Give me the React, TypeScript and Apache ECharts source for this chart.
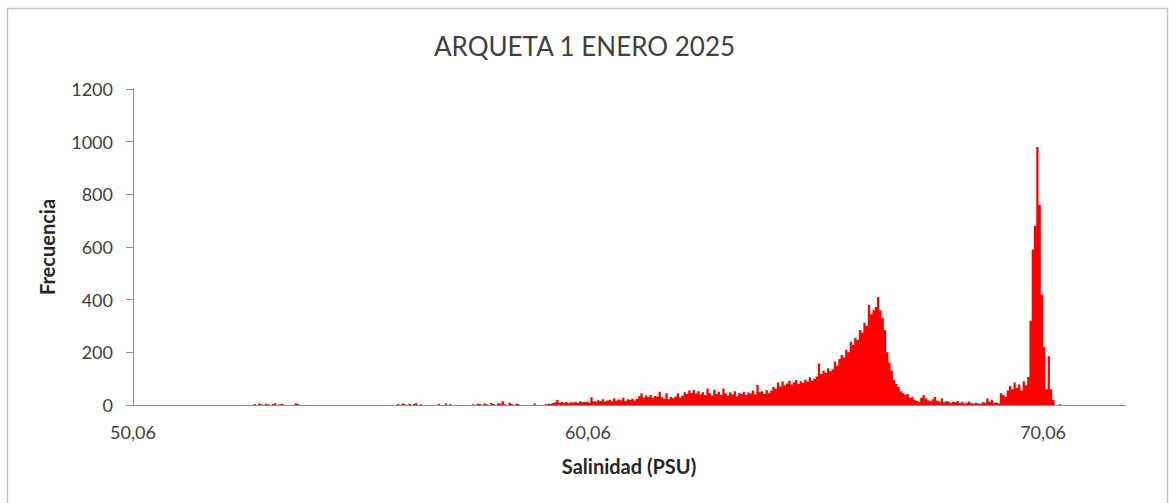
import React, { useEffect, useRef } from "react";
import * as echarts from "echarts";

// Histogram of salinity readings: bins of 0.05 PSU starting at 50.06
const binStart = 50.06;
const binWidth = 0.05;
const axisMin = 50.06;
const axisMax = 71.86;
const xTickStep = 10;
const yTicks = [0, 200, 400, 600, 800, 1000, 1200];

const frequencies: number[] = [
  // 50.06 - 51.06
  0, 0, 0, 0, 0, 0, 0, 0, 0, 0, 0, 0, 0, 0, 0, 0, 0, 0, 0, 0,
  // 51.06 - 52.06
  0, 0, 0, 0, 0, 0, 0, 0, 0, 0, 0, 0, 0, 0, 0, 0, 0, 0, 0, 0,
  // 52.06 - 53.06
  0, 0, 0, 0, 0, 0, 0, 0, 0, 0, 0, 0, 0, 4, 0, 6, 3, 0, 5, 2,
  // 53.06 - 54.06
  0, 4, 7, 0, 3, 5, 0, 0, 0, 0, 0, 6, 4, 0, 0, 0, 0, 0, 0, 0,
  // 54.06 - 55.06
  0, 0, 0, 0, 0, 0, 0, 0, 0, 0, 0, 0, 0, 0, 0, 0, 0, 0, 0, 0,
  // 55.06 - 56.06
  0, 0, 0, 0, 0, 0, 0, 0, 0, 0, 0, 0, 0, 0, 0, 0, 4, 0, 6, 3,
  // 56.06 - 57.06
  0, 5, 0, 4, 7, 0, 3, 0, 0, 0, 0, 0, 0, 0, 5, 0, 0, 6, 0, 3,
  // 57.06 - 58.06
  0, 0, 0, 0, 0, 0, 0, 0, 0, 3, 0, 5, 4, 0, 6, 3, 0, 8, 4, 0,
  // 58.06 - 59.06
  7, 5, 14, 3, 0, 9, 4, 0, 5, 3, 0, 0, 0, 0, 0, 0, 6, 0, 0, 0,
  // 59.06 - 60.06
  0, 3, 5, 4, 8, 10, 19, 9, 12, 8, 11, 7, 10, 9, 12, 8, 14, 10, 11, 13,
  // 60.06 - 61.06
  9, 29, 14, 12, 18, 15, 22, 13, 17, 20, 14, 26, 16, 21, 18, 28, 15, 22, 19, 24,
  // 61.06 - 62.06
  17, 23, 33, 45, 28, 36, 30, 38, 27, 34, 31, 50, 29, 24, 45, 22, 30, 26, 32, 45,
  // 62.06 - 63.06
  28, 35, 48, 42, 55, 46, 57, 44, 52, 40, 48, 38, 63, 45, 36, 58, 42, 50, 38, 63,
  // 63.06 - 64.06
  44, 35, 48, 40, 52, 33, 46, 42, 50, 38, 47, 44, 55, 40, 76, 48, 52, 42, 57, 45,
  // 64.06 - 65.06
  54, 68, 62, 85, 70, 89, 74, 82, 92, 78, 86, 95, 80, 90, 84, 96, 88, 105, 92, 100,
  // 65.06 - 66.06
  108, 158, 118, 130, 122, 140, 128, 135, 165, 150, 175, 190, 180, 210, 200, 240, 228, 255, 247, 285,
  // 66.06 - 67.06
  275, 312, 300, 380, 345, 360, 372, 410, 360, 330, 285, 200, 160, 130, 95, 80, 68, 52, 45, 38,
  // 67.06 - 68.06
  42, 28, 30, 20, 15, 12, 28, 38, 25, 18, 14, 22, 30, 16, 12, 25, 10, 14, 12, 8,
  // 68.06 - 69.06
  13, 10, 15, 8, 12, 6, 9, 13, 7, 5, 9, 6, 4, 10, 8, 25, 12, 20, 8, 10,
  // 69.06 - 70.06
  6, 45, 38, 30, 55, 72, 60, 85, 65, 78, 55, 90, 75, 106, 320, 590, 680, 980, 760, 420,
  // 70.06 - 71.06
  220, 60, 185, 60, 20, 0, 0, 3, 0, 0, 0, 0, 0, 0, 0, 0, 0, 0, 0, 0,
  // 71.06 - 71.86
  0, 0, 0, 0, 0, 0, 0, 0, 0, 0, 0, 0, 0, 0, 0, 0,
];

const titleText = "ARQUETA 1 ENERO 2025";
const xName = "Salinidad (PSU)";
const yName = "Frecuencia";

export default function App() {
  const ref = useRef<HTMLDivElement>(null);

  useEffect(() => {
    if (!ref.current) return;
    const chart = echarts.init(ref.current, undefined, { renderer: "svg" });
    const data = frequencies.map((f, i) => [binStart + (i + 0.5) * binWidth, f]);
    const font = "Lato, 'Open Sans', sans-serif";
    chart.setOption({
      animation: false,
      backgroundColor: "#ffffff",
      title: {
        text: titleText,
        left: "center",
        top: 28,
        textStyle: {
          fontFamily: font,
          fontSize: 26,
          fontWeight: "normal",
          color: "#404040",
        },
      },
      graphic: [
        {
          type: "rect",
          shape: { x: 7.5, y: 8.5, width: 1160, height: 500 },
          style: { fill: "none", stroke: "#c4c4c4", lineWidth: 1.5 },
          silent: true,
        },
      ],
      grid: { left: 133, right: 44, top: 89, bottom: 98, containLabel: false },
      xAxis: {
        type: "value",
        min: axisMin,
        max: axisMax,
        interval: xTickStep,
        z: 5,
        name: xName,
        nameLocation: "middle",
        nameGap: 51,
        nameTextStyle: {
          fontFamily: font,
          fontSize: 20,
          fontWeight: "bold",
          color: "#262626",
        },
        axisLine: { show: true, lineStyle: { color: "#8c8c8c", width: 1 } },
        axisTick: { show: false },
        splitLine: { show: false },
        axisLabel: {
          showMaxLabel: false,
          margin: 18,
          fontFamily: font,
          fontSize: 18,
          color: "#404040",
          formatter: (v: number) => v.toFixed(2).replace(".", ","),
        },
      },
      yAxis: {
        type: "value",
        min: yTicks[0],
        max: yTicks[yTicks.length - 1],
        interval: yTicks[1] - yTicks[0],
        name: yName,
        nameLocation: "middle",
        nameGap: 76,
        nameTextStyle: {
          fontFamily: font,
          fontSize: 20,
          fontWeight: "bold",
          color: "#262626",
        },
        axisLine: { show: true, lineStyle: { color: "#8c8c8c", width: 1 } },
        axisTick: { show: true, length: 7, lineStyle: { color: "#8c8c8c" } },
        splitLine: { show: false },
        axisLabel: {
          margin: 20,
          fontFamily: font,
          fontSize: 18,
          color: "#404040",
          formatter: (v: number) => String(v),
        },
      },
      series: [
        {
          type: "line",
          step: "middle",
          data,
          symbol: "none",
          lineStyle: { width: 0, color: "#ff0000" },
          areaStyle: { color: "#ff0000", opacity: 1 },
          itemStyle: { color: "#ff0000" },
        },
      ],
    });
    return () => chart.dispose();
  }, []);

  return (
    <div
      ref={ref}
      style={{
        position: "absolute",
        left: 0,
        top: 0,
        width: 1169,
        height: 503,
        background: "#ffffff",
      }}
    />
  );
}
